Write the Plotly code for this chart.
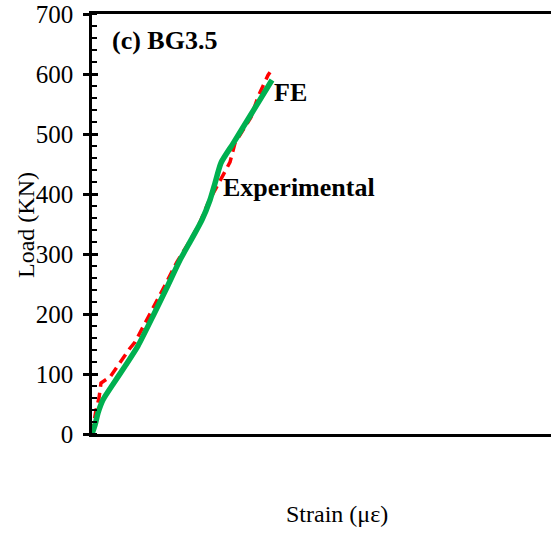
import plotly.graph_objects as go

# Experimental curve (green, solid)
exp_strain = [0, 30, 60, 110, 210, 330, 460, 620, 760, 880, 1000, 1100, 1180, 1230, 1290, 1410, 1580, 1800]
exp_load = [0, 15, 35, 57, 83, 113, 147, 200, 248, 290, 326, 357, 390, 418, 452, 484, 530, 590]

# FE curve (red, dashed)
fe_strain = [0, 40, 70, 90, 180, 260, 310, 380, 430, 510, 560, 630, 730, 850, 980, 1080, 1160, 1380, 1430, 1590, 1660, 1760, 1780]
fe_load = [0, 40, 60, 85, 95, 115, 127, 143, 153, 178, 193, 214, 248, 287, 322, 353, 385, 453, 485, 528, 562, 598, 603]

y_ticks = [0, 100, 200, 300, 400, 500, 600, 700]

FONT = "Liberation Serif"
W, H = 551, 553
L, R, T, B = 92, 0, 14, 119
pw, ph = W - L - R, H - T - B

def px(x):
    return (x - L) / pw

def py(y):
    return (H - B - y) / ph

fig = go.Figure()
fig.add_trace(go.Scatter(x=fe_strain, y=fe_load, mode="lines",
                         line=dict(color="#FF0000", width=3.5, dash="10px,6px"),
                         showlegend=False))
fig.add_trace(go.Scatter(x=exp_strain, y=exp_load, mode="lines",
                         line=dict(color="#00B050", width=5.5, shape="spline", smoothing=0.6),
                         showlegend=False))
# invisible trace on y2 to activate inner major ticks
fig.add_trace(go.Scatter(x=[0], y=[0], yaxis="y2", mode="markers",
                         marker=dict(opacity=0), showlegend=False, hoverinfo="skip"))

fig.update_layout(
    width=W, height=H,
    margin=dict(l=L, r=R, t=T, b=B),
    paper_bgcolor="white", plot_bgcolor="white",
    font=dict(family=FONT, color="black", size=25),
    xaxis=dict(range=[0, 4590], showticklabels=False, ticks="",
               showgrid=False, zeroline=False,
               showline=True, linecolor="black", linewidth=2.5, mirror=True),
    yaxis=dict(range=[0, 700], tickvals=y_ticks, ticktext=[str(v) for v in y_ticks],
               ticks="outside", ticklen=6, tickwidth=2.5, tickcolor="black",
               ticklabelstandoff=5,
               minor=dict(dtick=20, ticks="inside", ticklen=5, tickwidth=2, tickcolor="black"),
               showgrid=False, zeroline=False,
               showline=True, linecolor="black", linewidth=2.5,
               tickfont=dict(family=FONT, size=25, color="black")),
    yaxis2=dict(range=[0, 700], overlaying="y", side="left", tickvals=y_ticks,
                showticklabels=False, ticks="inside", ticklen=6, tickwidth=2.5,
                tickcolor="black", showgrid=False, zeroline=False, showline=False),
)

annos = [
    dict(text="<b>(c) BG3.5</b>", x=px(110), y=py(40), xanchor="left", yanchor="middle", size=26),
    dict(text="<b>FE</b>", x=px(272), y=py(92), xanchor="left", yanchor="middle", size=26),
    dict(text="<b>Experimental</b>", x=px(221), y=py(187), xanchor="left", yanchor="middle", size=26),
    dict(text="Strain (με)", x=px(337), y=py(514), xanchor="center", yanchor="middle", size=24),
]
for a in annos:
    fig.add_annotation(text=a["text"], xref="paper", yref="paper", x=a["x"], y=a["y"],
                       xanchor=a["xanchor"], yanchor=a["yanchor"], showarrow=False,
                       font=dict(family=FONT, size=a["size"], color="black"))
fig.add_annotation(text="Load (KN)", xref="paper", yref="paper", x=px(26), y=py(225),
                   xanchor="center", yanchor="middle", textangle=-90, showarrow=False,
                   font=dict(family=FONT, size=24, color="black"))

fig.write_html("out.html")
